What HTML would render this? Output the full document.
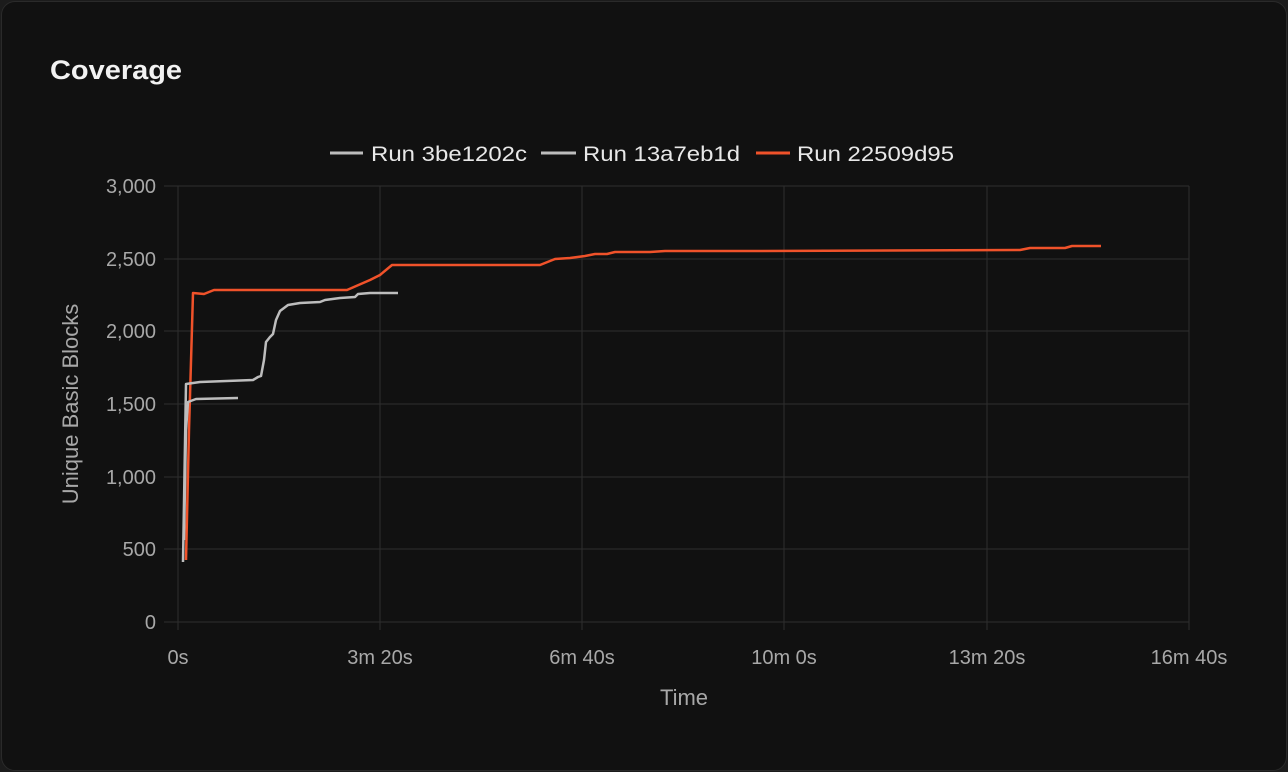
<!DOCTYPE html>
<html><head><meta charset="utf-8"><style>
html,body{margin:0;padding:0;background:#1c1c1c;width:1288px;height:772px;overflow:hidden}
.card{position:absolute;left:1px;top:1px;width:1284px;height:768px;background:#111111;border:1px solid #2a2a2a;border-radius:14px}
svg{position:absolute;left:0;top:0}
text{font-family:"Liberation Sans",sans-serif}
</style></head><body>
<div class="card"></div>
<svg width="1288" height="772" viewBox="0 0 1288 772">
<text x="50" y="79" font-size="27" font-weight="bold" fill="#f2f2f2" textLength="132" lengthAdjust="spacingAndGlyphs">Coverage</text>
<g stroke="#2e2e2e" stroke-width="1">
<line x1="178" y1="186" x2="1189" y2="186"/><line x1="178" y1="259" x2="1189" y2="259"/>
<line x1="178" y1="331" x2="1189" y2="331"/><line x1="178" y1="404" x2="1189" y2="404"/>
<line x1="178" y1="477" x2="1189" y2="477"/><line x1="178" y1="549" x2="1189" y2="549"/>
<line x1="178" y1="622" x2="1189" y2="622"/>
<line x1="178" y1="186" x2="178" y2="630"/><line x1="380" y1="186" x2="380" y2="630"/>
<line x1="582" y1="186" x2="582" y2="630"/><line x1="784" y1="186" x2="784" y2="630"/>
<line x1="987" y1="186" x2="987" y2="630"/><line x1="1189" y1="186" x2="1189" y2="630"/>
<line x1="164" y1="186" x2="178" y2="186"/><line x1="164" y1="259" x2="178" y2="259"/>
<line x1="164" y1="331" x2="178" y2="331"/><line x1="164" y1="404" x2="178" y2="404"/>
<line x1="164" y1="477" x2="178" y2="477"/><line x1="164" y1="549" x2="178" y2="549"/>
<line x1="164" y1="622" x2="178" y2="622"/>
</g>
<g font-size="20" fill="#a8a8a8" text-anchor="end">
<text x="156" y="193">3,000</text><text x="156" y="266">2,500</text><text x="156" y="338">2,000</text>
<text x="156" y="411">1,500</text><text x="156" y="484">1,000</text><text x="156" y="556">500</text><text x="156" y="629">0</text>
</g>
<g font-size="20" fill="#a8a8a8" text-anchor="middle">
<text x="178" y="664">0s</text><text x="380" y="664">3m 20s</text><text x="582" y="664">6m 40s</text>
<text x="784" y="664">10m 0s</text><text x="987" y="664">13m 20s</text><text x="1189" y="664">16m 40s</text>
<text x="684" y="705" font-size="22">Time</text>
<text transform="translate(78,404) rotate(-90)" font-size="22">Unique Basic Blocks</text>
</g>
<g font-size="21" fill="#e8e8e8">
<line x1="330" y1="153" x2="363" y2="153" stroke="#bdbdbd" stroke-width="3"/><text x="371" y="161" textLength="156" lengthAdjust="spacingAndGlyphs">Run 3be1202c</text>
<line x1="541" y1="153" x2="576" y2="153" stroke="#bdbdbd" stroke-width="3"/><text x="583" y="161" textLength="157" lengthAdjust="spacingAndGlyphs">Run 13a7eb1d</text>
<line x1="756" y1="153" x2="790" y2="153" stroke="#f0522a" stroke-width="3"/><text x="797" y="161" textLength="157" lengthAdjust="spacingAndGlyphs">Run 22509d95</text>
</g>
<g fill="none" stroke-width="2.5" stroke-linejoin="round">
<polyline stroke="#f0522a" points="186,560 189,430 193,293 204,294 214,290 347,290 370,280 380,275 392,265 540,265 555,259 570,258 585,256 595,254 607,254 615,252 650,252 665,251 750,251 1020,250 1030,248 1065,248 1072,246 1101,246"/>
<polyline stroke="#bdbdbd" points="184,540 186,430 188,402 196,399 238,398"/>
<polyline stroke="#bdbdbd" points="183,562 186,384 200,382 253,380 258,377 261,376 264,360 266,342 270,337 273,334 276,320 280,311 288,305 300,303 320,302 325,300 340,298 355,297 358,294 370,293 398,293"/>
</g>
</svg>
</body></html>
